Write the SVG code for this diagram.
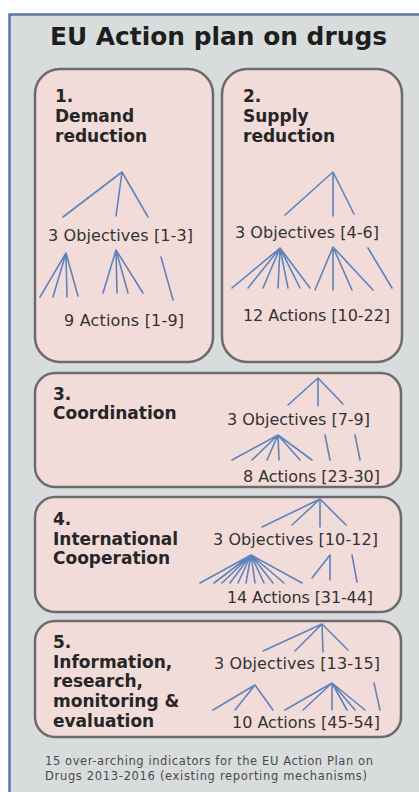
<svg xmlns="http://www.w3.org/2000/svg" width="419" height="792" viewBox="0 0 419 792">
  <style>
    .frame { fill: #d9dcdd; stroke: #5a78a8; stroke-width: 2.5; }
    .box { fill: #f2dcda; stroke: #6b6b6b; stroke-width: 2.5; }
    .title { font-family: "DejaVu Sans", Verdana, sans-serif; font-weight: bold; font-size: 25px; fill: #1e1e1e; }
    .head { font-family: "DejaVu Sans", Verdana, sans-serif; font-weight: bold; font-size: 17px; fill: #262626; }
    .lbl { font-family: "DejaVu Sans", Verdana, sans-serif; font-size: 16px; fill: #333333; }
    .note { font-family: "DejaVu Sans", Verdana, sans-serif; font-size: 11.5px; fill: #4a4a4a; }
    .links path { fill: none; stroke: #5f83bb; stroke-width: 1.6; stroke-linecap: round; }
  </style>

  <rect width="419" height="792" fill="#ffffff"/>
  <!-- outer panel, open on the right and bottom -->
  <rect class="frame" x="9.5" y="14.5" width="420" height="790"/>

  <text class="title" x="50" y="45" textLength="337" lengthAdjust="spacingAndGlyphs">EU Action plan on drugs</text>

  <g id="demand-reduction">
    <rect class="box" x="35" y="69" width="178" height="293" rx="25"/>
    <text class="head" x="55" y="102">1.</text>
    <text class="head" x="55" y="122">Demand</text>
    <text class="head" x="55" y="142">reduction</text>
    <text class="lbl" x="48" y="241" textLength="145">3 Objectives [1-3]</text>
    <text class="lbl" x="64" y="326" textLength="120">9 Actions [1-9]</text>
  </g>

  <g id="supply-reduction">
    <rect class="box" x="222" y="69" width="180" height="293" rx="25"/>
    <text class="head" x="243" y="102">2.</text>
    <text class="head" x="243" y="122">Supply</text>
    <text class="head" x="243" y="142">reduction</text>
    <text class="lbl" x="235" y="238" textLength="144">3 Objectives [4-6]</text>
    <text class="lbl" x="243" y="321" textLength="147">12 Actions [10-22]</text>
  </g>

  <g id="coordination">
    <rect class="box" x="35" y="373" width="366" height="114" rx="20"/>
    <text class="head" x="53" y="400">3.</text>
    <text class="head" x="53" y="419">Coordination</text>
    <text class="lbl" x="227" y="425" textLength="143">3 Objectives [7-9]</text>
    <text class="lbl" x="243" y="482" textLength="137">8 Actions [23-30]</text>
  </g>

  <g id="international-cooperation">
    <rect class="box" x="35" y="497" width="366" height="115" rx="20"/>
    <text class="head" x="53" y="525">4.</text>
    <text class="head" x="53" y="545">International</text>
    <text class="head" x="53" y="564">Cooperation</text>
    <text class="lbl" x="213" y="545" textLength="165">3 Objectives [10-12]</text>
    <text class="lbl" x="227" y="603" textLength="146">14 Actions [31-44]</text>
  </g>

  <g id="information-research">
    <rect class="box" x="35" y="621" width="366" height="116" rx="20"/>
    <text class="head" x="53" y="648">5.</text>
    <text class="head" x="53" y="668">Information,</text>
    <text class="head" x="53" y="687">research,</text>
    <text class="head" x="53" y="707">monitoring &amp;</text>
    <text class="head" x="53" y="727">evaluation</text>
    <text class="lbl" x="214" y="669" textLength="166">3 Objectives [13-15]</text>
    <text class="lbl" x="232" y="728" textLength="148">10 Actions [45-54]</text>
  </g>

  <g id="indicators">
    <text class="note" x="45" y="765" textLength="328">15 over-arching indicators for the EU Action Plan on</text>
    <text class="note" x="45" y="780" textLength="322">Drugs 2013-2016 (existing reporting mechanisms)</text>
  </g>

  <g class="links" id="connectors">
    <!-- 1: objectives -->
    <path d="M122,172 L63,217 M122,172 L116,216 M122,172 L148,217"/>
    <!-- 1: actions -->
    <path d="M66,253 L40,297 M66,253 L53,297 M66,253 L67,297 M66,253 L78,296"/>
    <path d="M116,250 L103,293 M116,250 L117,293 M116,250 L128,293 M116,250 L143,293"/>
    <path d="M161,257 L173,300"/>

    <!-- 2: objectives -->
    <path d="M333,172 L285,215 M333,172 L333,216 M333,172 L354,214"/>
    <!-- 2: actions -->
    <path d="M280,248 L232,288 M280,248 L248,288 M280,248 L263,288 M280,248 L278,288 M280,248 L288,288 M280,248 L300,288 M280,248 L310,288"/>
    <path d="M333,247 L315,290 M333,247 L333,290 M333,247 L352,290 M333,247 L373,290"/>
    <path d="M368,248 L392,288"/>

    <!-- 3: objectives -->
    <path d="M318,378 L288,405 M318,378 L318,406 M318,378 L343,404"/>
    <!-- 3: actions -->
    <path d="M278,435 L232,460 M278,435 L252,460 M278,435 L267,460 M278,435 L279,460 M278,435 L300,460 M278,435 L312,460"/>
    <path d="M325,435 L330,460 M355,435 L360,460"/>

    <!-- 4: objectives -->
    <path d="M320,499 L262,527 M320,499 L292,525 M320,499 L320,527 M320,499 L346,525"/>
    <!-- 4: actions -->
    <path d="M251,555 L200,583 M251,555 L214,583 M251,555 L222,583 M251,555 L230,583 M251,555 L238,583 M251,555 L246,583 M251,555 L255,583 M251,555 L264,583 M251,555 L273,583 M251,555 L284,583 M251,555 L302,583"/>
    <path d="M330,555 L312,578 M330,555 L330,580"/>
    <path d="M352,555 L357,582"/>

    <!-- 5: objectives -->
    <path d="M322,624 L263,651 M322,624 L295,651 M322,624 L323,652 M322,624 L348,650"/>
    <!-- 5: actions -->
    <path d="M255,685 L213,710 M255,685 L235,710 M255,685 L273,710"/>
    <path d="M332,683 L285,710 M332,683 L303,710 M332,683 L332,710 M332,683 L347,710 M332,683 L355,710 M332,683 L365,710"/>
    <path d="M374,683 L380,710"/>
  </g>
</svg>
